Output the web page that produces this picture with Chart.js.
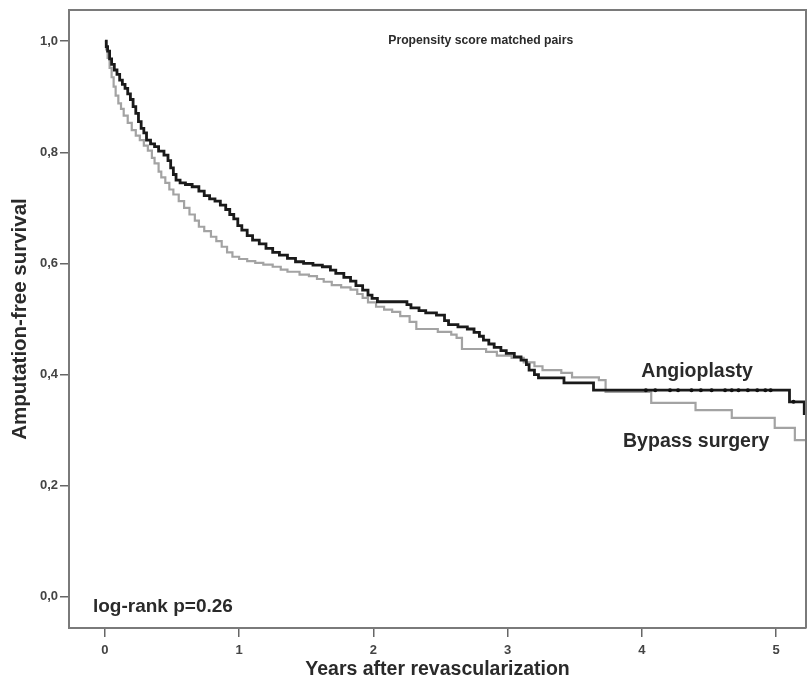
<!DOCTYPE html>
<html><head><meta charset="utf-8">
<script src="https://cdn.jsdelivr.net/npm/chart.js@4.4.1/dist/chart.umd.min.js"></script>
<style>html,body{margin:0;padding:0;background:#fff}</style>
</head><body>
<canvas id="c" width="810" height="685"></canvas>
<script>
// ---- data ----
const xTicks = [0, 1, 2, 3, 4, 5];
const yTicks = [0, 0.2, 0.4, 0.6, 0.8, 1.0];

const angioTimes = [0,0.01,0.02,0.035,0.05,0.07,0.09,0.11,0.13,0.15,0.17,0.19,0.21,0.23,0.25,0.27,0.29,0.31,0.34,0.37,0.40,0.44,0.47,0.49,0.51,0.53,0.56,0.60,0.65,0.70,0.74,0.78,0.82,0.86,0.90,0.93,0.96,0.99,1.02,1.06,1.10,1.15,1.20,1.25,1.30,1.36,1.42,1.48,1.55,1.62,1.68,1.72,1.78,1.83,1.87,1.92,1.96,1.99,2.03,2.25,2.28,2.34,2.39,2.47,2.53,2.56,2.63,2.70,2.75,2.79,2.82,2.86,2.90,2.95,2.99,3.05,3.10,3.14,3.16,3.20,3.23,3.42,3.64,5.10,5.21,5.23];
const angioSurv  = [1.0,0.99,0.982,0.968,0.958,0.948,0.94,0.93,0.922,0.915,0.905,0.895,0.882,0.87,0.855,0.843,0.835,0.822,0.815,0.81,0.802,0.795,0.785,0.772,0.76,0.75,0.745,0.742,0.738,0.73,0.722,0.716,0.712,0.705,0.697,0.688,0.68,0.668,0.66,0.65,0.642,0.635,0.627,0.62,0.615,0.609,0.603,0.6,0.597,0.594,0.588,0.582,0.575,0.568,0.56,0.552,0.543,0.537,0.531,0.526,0.52,0.515,0.511,0.507,0.497,0.49,0.486,0.482,0.476,0.469,0.462,0.455,0.449,0.443,0.438,0.432,0.426,0.418,0.408,0.4,0.394,0.385,0.372,0.351,0.33,0.33];
const angioCensored = [4.03,4.10,4.21,4.27,4.37,4.44,4.52,4.62,4.67,4.72,4.79,4.86,4.92,4.96,5.13];

const bypassTimes = [0,0.01,0.02,0.035,0.05,0.065,0.08,0.10,0.12,0.14,0.17,0.20,0.23,0.26,0.29,0.32,0.35,0.37,0.40,0.42,0.45,0.48,0.51,0.55,0.59,0.63,0.67,0.70,0.74,0.79,0.83,0.87,0.91,0.95,1.0,1.06,1.12,1.18,1.25,1.31,1.36,1.45,1.52,1.58,1.63,1.69,1.76,1.83,1.88,1.92,1.96,2.02,2.08,2.14,2.20,2.27,2.32,2.48,2.58,2.62,2.66,2.84,2.92,3.03,3.12,3.20,3.26,3.40,3.48,3.68,3.73,4.07,4.40,4.67,4.99,5.14,5.23];
const bypassSurv  = [1.0,0.985,0.97,0.952,0.935,0.918,0.902,0.888,0.878,0.866,0.853,0.84,0.83,0.822,0.812,0.803,0.79,0.78,0.765,0.755,0.745,0.733,0.724,0.712,0.70,0.688,0.677,0.666,0.658,0.648,0.64,0.63,0.62,0.612,0.608,0.604,0.601,0.598,0.594,0.589,0.585,0.58,0.577,0.572,0.567,0.561,0.557,0.553,0.545,0.538,0.53,0.522,0.517,0.513,0.505,0.495,0.482,0.477,0.472,0.466,0.446,0.441,0.434,0.43,0.422,0.415,0.408,0.403,0.395,0.39,0.369,0.349,0.336,0.322,0.304,0.282,0.282];

// ---- build ----
const toPts = (ts, ss) => ts.map((t, i) => ({x: t, y: ss[i]}));
function survAt(ts, ss, t) { let v = ss[0]; for (let i = 0; i < ts.length; i++) { if (ts[i] <= t) v = ss[i]; } return v; }
const censorPts = angioCensored.map(t => ({x: t, y: survAt(angioTimes, angioSurv, t)}));

const FONT = '"Liberation Sans", Arial, sans-serif';

const notesPlugin = {
  id: 'notes',
  afterDraw(chart) {
    const {ctx, scales: {x, y}, chartArea: a} = chart;
    ctx.save();
    ctx.strokeStyle = '#7a7a7a'; ctx.lineWidth = 2;
    ctx.beginPath();
    ctx.moveTo(a.left, a.top); ctx.lineTo(a.right, a.top); ctx.lineTo(a.right, a.bottom);
    ctx.stroke();
    ctx.fillStyle = '#2a2a2a';
    ctx.textBaseline = 'alphabetic';
    const put = (txt, tx, ty, font, align) => { ctx.font = font; ctx.textAlign = align; ctx.fillText(txt, x.getPixelForValue(tx), y.getPixelForValue(ty)); };
    put('Propensity score matched pairs', 2.80, 0.994, 'bold 12.2px ' + FONT, 'center');
    put('log-rank p=0.26', -0.089, -0.027, 'bold 19px ' + FONT, 'left');
    put('Angioplasty', 3.996, 0.396, 'bold 19.5px ' + FONT, 'left');
    put('Bypass surgery', 3.86, 0.27, 'bold 19.5px ' + FONT, 'left');
    ctx.restore();
  }
};

new Chart(document.getElementById('c'), {
  type: 'line',
  data: {
    datasets: [
      { label: 'censored', data: censorPts, showLine: false, pointRadius: 2, pointBackgroundColor: '#111', pointBorderColor: '#111', pointBorderWidth: 0 },
      { label: 'Angioplasty', data: toPts(angioTimes, angioSurv), stepped: 'before', borderColor: '#1a1a1a', borderWidth: 2.8, pointRadius: 0, fill: false },
      { label: 'Bypass surgery', data: toPts(bypassTimes, bypassSurv), stepped: 'before', borderColor: '#a3a3a3', borderWidth: 2.2, pointRadius: 0, fill: false }
    ]
  },
  options: {
    responsive: false,
    animation: false,
    devicePixelRatio: 1,
    layout: { padding: { top: 10, right: 2, left: 0, bottom: 0 } },
    plugins: { legend: { display: false }, tooltip: { enabled: false } },
    scales: {
      x: {
        type: 'linear', min: -0.2675, max: 5.223,
        afterBuildTicks: s => { s.ticks = xTicks.map(v => ({value: v})); },
        afterFit: s => { s.height = 57; },
        grid: { drawOnChartArea: false, drawTicks: true, tickLength: 9, color: '#666', lineWidth: 1.5 },
        border: { display: true, color: '#7a7a7a', width: 2 },
        ticks: { padding: 6, color: '#444', font: { family: FONT, size: 13, weight: 'bold' }, callback: v => String(v), maxRotation: 0 },
        title: { display: true, text: 'Years after revascularization', color: '#2a2a2a', font: { family: FONT, size: 19.5, weight: 'bold' }, padding: { top: 0, bottom: 4 } }
      },
      y: {
        type: 'linear', min: -0.056, max: 1.056,
        afterBuildTicks: s => { s.ticks = yTicks.map(v => ({value: v})); },
        afterFit: s => { s.width = 69; },
        grid: { drawOnChartArea: false, drawTicks: true, tickLength: 9, color: '#666', lineWidth: 1.5 },
        border: { display: true, color: '#7a7a7a', width: 2 },
        ticks: { padding: 2, color: '#444', font: { family: FONT, size: 13, weight: 'bold' }, callback: v => v.toFixed(1).replace('.', ',') },
        title: { display: true, text: 'Amputation-free survival', color: '#2a2a2a', font: { family: FONT, size: 20.5, weight: 'bold' }, padding: { top: 8, bottom: 0 } }
      }
    }
  },
  plugins: [notesPlugin]
});
</script>
</body></html>
